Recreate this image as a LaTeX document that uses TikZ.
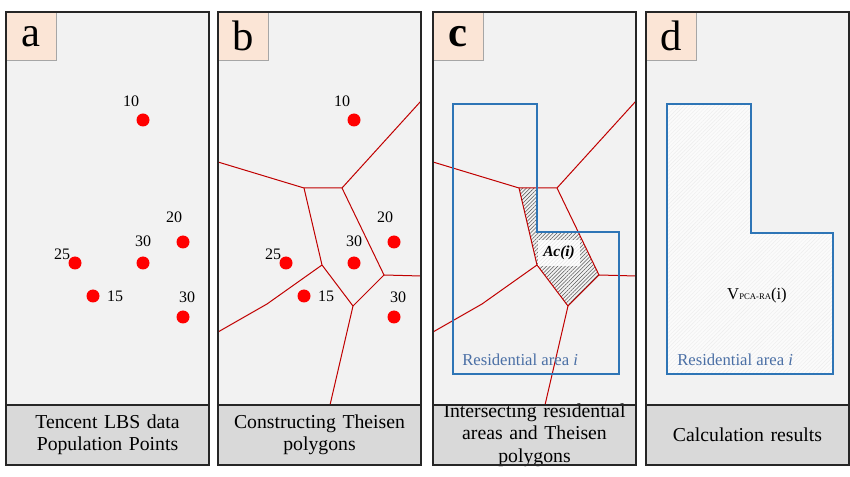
\documentclass[tikz,border=0pt]{standalone}
\usepackage{fontspec}
\setmainfont{Liberation Serif}
\usepackage{tikz}
\definecolor{PanelGray}{HTML}{F2F2F2}
\definecolor{CaptionGray}{HTML}{D9D9D9}
\definecolor{FrameDark}{HTML}{262626}
\definecolor{TabPeach}{HTML}{FBE5D6}
\definecolor{TabEdge}{HTML}{A6A6A6}
\definecolor{DotRed}{HTML}{FF0000}
\definecolor{EdgeRed}{HTML}{C00000}
\definecolor{AreaBlue}{HTML}{2E75B6}
\definecolor{AreaText}{HTML}{4A6FA5}
\usetikzlibrary{positioning, patterns.meta}

\begin{document}
\begin{tikzpicture}[x=0.75pt, y=-0.75pt,
    paneltab/.style={draw=TabEdge, line width=0.5pt, fill=TabPeach, anchor=north west, minimum width=37.5pt, minimum height=36pt, inner sep=0pt, font=\fontsize{32}{32}\selectfont},
    popdot/.style={circle, fill=DotRed, inner sep=0pt, minimum size=9.75pt},
    numlabel/.style={inner sep=0pt, font=\fontsize{12}{12}\selectfont},
    captext/.style={text width=145pt, align=center, font=\fontsize{14.8}{16.8}\selectfont},
    cell/.style={draw=EdgeRed, line width=0.75pt},
    arealine/.style={draw=AreaBlue, line width=1.9pt},
    arealabel/.style={text=AreaText, anchor=west, inner sep=0pt, font=\fontsize{12.5}{13}\selectfont},
    frame/.style={draw=FrameDark, line width=1.1pt}]
    \useasboundingbox (0,0) rectangle (850,477);

    % Panels with letter tabs and captions
    \foreach \px/\pn/\lt/\cap in {6/a/a/{Tencent LBS data\\Population Points},
        218/b/b/{Constructing Theisen\\polygons},
        433/c/{\textbf{c}}/{Intersecting residential\\areas and Theisen\\polygons},
        646/d/d/{Calculation results}} {
        \fill[PanelGray] (\px,12) rectangle ++(203,393);
        \fill[CaptionGray] (\px,405) rectangle ++(203,60);
        \node[paneltab] (tab-\pn) at (\px,12) {\lt};
        \node[captext] (cap-\pn) at ({\px+101.5},435) {\cap};
    }

    % Overlap of one cell with the residential area
    \path[pattern={Lines[angle=45, distance=2pt, line width=0.4pt]}, pattern color=black!65]
        (519,188) -- (537,188) -- (537,232) -- (578,232) -- (599,275) -- (568,306) -- (537,265) -- cycle;

    % Theisen polygons (b and c)
    \foreach \sx/\pn in {0/b, 215/c} {
        \begin{scope}[shift={(\sx,0)}]
            \coordinate (\pn-l1) at (218,162);
            \coordinate (\pn-l2) at (218,332);
            \coordinate (\pn-v1) at (304,188);
            \coordinate (\pn-v2) at (342,188);
            \coordinate (\pn-v3) at (322,265);
            \coordinate (\pn-v4) at (384,275);
            \coordinate (\pn-v5) at (353,306);
            \coordinate (\pn-k)  at (267,304);
            \coordinate (\pn-t)  at (421,101);
            \coordinate (\pn-r)  at (421,276);
            \coordinate (\pn-b)  at (330,405);
            \draw[cell] (\pn-l1) -- (\pn-v1) -- (\pn-v2) -- (\pn-t);
            \draw[cell] (\pn-v1) -- (\pn-v3) -- (\pn-v5) -- (\pn-v4) -- (\pn-v2);
            \draw[cell] (\pn-v4) -- (\pn-r);
            \draw[cell] (\pn-v5) -- (\pn-b);
            \draw[cell] (\pn-v3) -- (\pn-k) -- (\pn-l2);
        \end{scope}
    }

    % Residential area i
    \draw[arealine] (453,104) -- (537,104) -- (537,232) -- (619,232) -- (619,374) -- (453,374) -- cycle;
    \fill[white!70!PanelGray] (667,104) -- (751,104) -- (751,233) -- (833,233) -- (833,374) -- (667,374) -- cycle;
    \path[pattern={Lines[angle=45, distance=2pt, line width=0.3pt]}, pattern color=gray!14]
        (667,104) -- (751,104) -- (751,233) -- (833,233) -- (833,374) -- (667,374) -- cycle;
    \draw[arealine] (667,104) -- (751,104) -- (751,233) -- (833,233) -- (833,374) -- (667,374) -- cycle;

    % Population points (a and b)
    \foreach \sx/\pn in {0/a, 211/b} {
        \begin{scope}[shift={(\sx,0)}]
            \node[popdot] (\pn-p10) at (143,120) {};
            \node[popdot] (\pn-p20) at (183,242) {};
            \node[popdot] (\pn-p30) at (143,263) {};
            \node[popdot] (\pn-p25) at (75,263) {};
            \node[popdot] (\pn-p15) at (93,296) {};
            \node[popdot] (\pn-q30) at (183,317) {};
            \node[numlabel] (\pn-n10) at (131,101) {10};
            \node[numlabel] (\pn-n20) at (174,217) {20};
            \node[numlabel] (\pn-n30) at (143,241) {30};
            \node[numlabel] (\pn-n25) at (62,254) {25};
            \node[numlabel] (\pn-n15) at (115,296) {15};
            \node[numlabel] (\pn-m30) at (187,297) {30};
        \end{scope}
    }

    % Labels inside c and d
    \node[fill=white, fill opacity=0.85, text opacity=1, inner sep=0pt, minimum width=31pt, minimum height=20pt,
        font=\bfseries\itshape\fontsize{11.5}{12}\selectfont] (ac) at (559,253) {Ac(i)};
    \node[arealabel] (c-res) at (462,360) {Residential area \textit{i}};
    \node[arealabel] (d-res) at (677,360) {Residential area \textit{i}};
    \node[font=\fontsize{12.5}{13}\selectfont] (vres) at (757,295)
        {V\raisebox{-0.5pt}{\fontsize{6.5}{7}\selectfont PCA-RA}(i)};

    % Frames
    \foreach \px in {6, 218, 433, 646} {
        \draw[frame] (\px,12) rectangle ++(203,453);
        \draw[frame] (\px,405) -- ++(203,0);
    }
\end{tikzpicture}
\end{document}
